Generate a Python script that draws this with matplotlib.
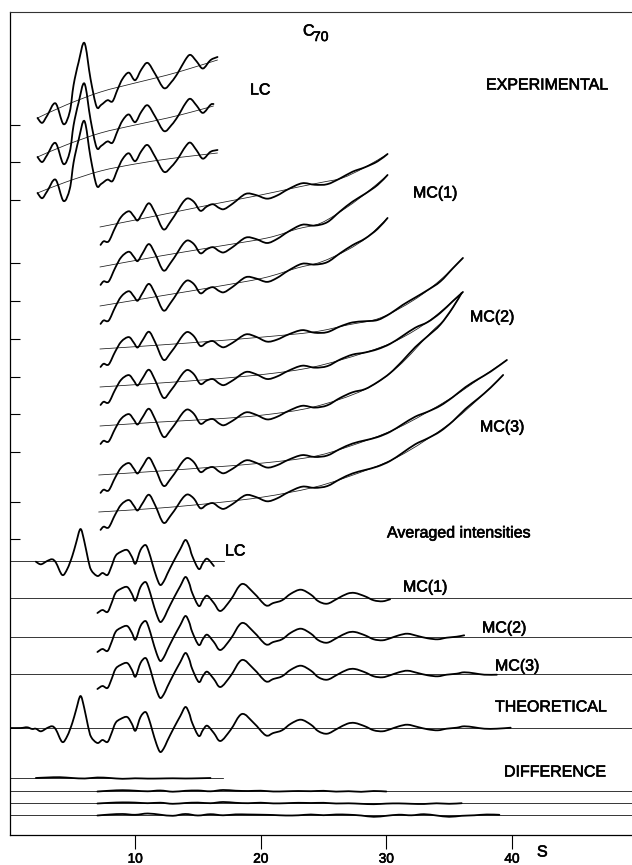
import numpy as np
import matplotlib
matplotlib.use("Agg")
import matplotlib.pyplot as plt
from matplotlib.path import Path
from matplotlib.patches import PathPatch
import matplotlib.patheffects as pe

plt.rcParams['font.family'] = ['Liberation Sans', 'DejaVu Sans']

# ---------------- data ----------------
# theoretical molecular intensity sM(s) (px units, + up)
theo_s = [0.0, 0.9, 1.4, 1.8, 2.1, 2.5, 3.0, 3.4, 3.7, 4.2, 4.6, 5.0, 5.3, 5.65, 5.95,
          6.25, 6.5, 7.0, 7.4, 7.8, 8.1, 8.44, 8.84, 9.37, 9.75, 10.03, 10.43, 10.83, 11.1,
          11.36, 11.7, 12.0, 12.3, 12.56, 13.08, 13.6, 14.0, 14.3, 14.55, 15.07, 15.4, 15.74,
          16.27, 16.8, 17.6, 18.5, 19.45, 20.4, 21.0, 21.7, 22.4, 23.2, 24.0, 24.6, 25.3,
          26.1, 26.9, 27.5, 28.3, 29.0, 29.7, 30.3, 31.0, 31.7, 32.5, 33.3, 34.1, 34.8,
          35.6, 36.2, 37.0, 37.8, 38.8, 39.9]
theo_v = [0, 0, 0.7, -1, -0.7, -3.3, 0, 1.7, -1.7, -14, -8, 5, 18, 32, 20,
          2, -9, -15, -12, -14, -6, 5, 9, 11, 4, -2.7, 11, 16, 9,
          -2, -16, -24, -20, -13, 0, 12, 21, 15, 5, -8, -2, 2.3,
          -5, -13, -2, 14, 5, -7.3, -5, -2.3, 4.3, 8.3, 3.3, -3.3, -5.7,
          -0.7, 4.3, 5, 1.7, -2.3, -3.3, -1.3, 1.7, 3.3, 1, -1.3, -2.3, -0.7,
          0.3, 1.7, 0.7, -0.7, -0.7, 0.3]

# averaged intensity curves: s range
avg_names = ["LC", "MC(1)", "MC(2)", "MC(3)"]
avg_start = [2.1, 7.0, 7.0, 7.0]
avg_end = [16.3, 30.3, 36.2, 38.8]

# experimental LC: oscillation about background
lc_s = [2.23, 2.6, 3.0, 3.66, 4.3, 4.8, 5.1, 5.5, 5.97, 6.45, 6.93, 7.3, 7.8, 8.2, 8.6,
        9.0, 9.5, 10.0, 10.5, 11.0, 11.6, 12.3, 12.9, 13.4, 14.0, 14.4, 14.9, 15.4, 16.0, 16.56]
lc_dev = [0, -7, -2, 6.5, -18, -8, 17, 38, 55, 17, -13, -13, -10, -12.5, -2,
          7.4, 12, 2.8, 12, 17, 4, -12.3, -8, -1, 10, 13.5, 5, -4, 2, 3]
lc_bg_s = [[2.23, 4.5, 7.25, 10, 12.58, 14.5, 16.56],
           [2.23, 4.5, 7.25, 10, 12.58, 14.5, 16.24],
           [2.23, 4.5, 7.25, 10, 12.58, 14.5, 16.56]]
lc_bg_v = [[717, 730, 743, 752, 760, 767, 775],
           [678, 690, 702, 710, 717, 723, 729],
           [642, 653, 664, 671, 676, 679, 682]]

# experimental MC: oscillation about background
mc_s = [7.25, 7.5, 7.9, 8.4, 8.9, 9.5, 9.9, 10.2, 10.6, 11.1, 11.6, 12.25, 12.8, 13.4,
        13.8, 14.2, 14.7, 15.2, 15.7, 16.2, 16.7, 17.1, 17.8, 18.8, 19.6, 20.5, 21.3,
        22.2, 23.3, 24.3, 25.3, 26.3, 27.3, 28.3, 29.3, 30.3, 31.3, 32.3, 33.3, 34.3,
        35.3, 36.3, 37.3, 38.3, 39.6]
mc_dev = [-18, -15, -16, -4, 6, 10, 4, -1, 6, 14, 3, -15, -9, 1,
          8, 11, 6, -4, -1, 0, -5, -7, -3, 4, 1, -5, -4,
          0, 3, -1, -3, 0, 1.5, 0, -1.5, -1, 1, 1.5, -0.5, -1.5,
          -0.5, 1, 0.5, -0.5, 0]
mc_end = [30.1, 30.1, 30.1, 36.1, 36.1, 36.0, 39.6, 39.3]
mc_bg_s = [[7.2, 12, 16.3, 20, 23, 25, 26.5, 28.2, 30.1],
           [7.2, 12, 16.3, 20.5, 22.9, 24.8, 26.9, 28.5, 30.1],
           [7.2, 12, 16.3, 20.2, 22.9, 24.8, 26.9, 28.5, 30.1],
           [7.2, 12, 16.3, 20.2, 24.2, 26.9, 29.5, 32.2, 34.3, 36.1],
           [7.2, 12, 16.3, 20.5, 24.2, 28.2, 30.9, 33.5, 36.1],
           [7.2, 12, 16.3, 20.2, 24.2, 28.2, 30.9, 33.5, 34.8, 36.0],
           [7.1, 12, 16.3, 20.2, 24, 26.9, 30.9, 34.9, 37.5, 39.6],
           [7.1, 12, 16.3, 20.2, 24, 26.9, 30.9, 34.9, 37.5, 39.3]]
mc_bg_v = [[608, 620, 631, 640, 648, 653, 657, 667, 681],
           [568, 579, 588, 597, 606, 612, 628, 643, 660],
           [529, 539, 548, 557, 567, 573, 585, 598, 617],
           [486, 490, 494, 498, 503, 510, 517, 535, 555, 577],
           [448, 452, 456, 461, 468, 482, 495, 515, 543],
           [409, 413, 416, 420, 428, 445, 468, 502, 518, 542],
           [360, 364, 368, 372, 378, 388, 407, 435, 457, 475],
           [323, 327, 332, 338, 347, 358, 378, 410, 438, 460]]

# difference curves
diff_s = [[2.1, 3, 4, 5, 6, 7, 8, 9, 10, 11, 12, 13, 14, 15, 16],
          list(range(7, 31)),
          list(range(7, 37)),
          list(range(7, 40))]
diff_v = [[0, 0.5, 0.8, 0, -0.5, 0.5, 0, -0.8, -0.3, -0.6, -0.5, -0.3, -0.5, -0.3, 0],
          [-0.5, 0.3, 0.8, 0.3, -0.3, 0.5, -0.7, 0.2, 0.5, -0.3, 1.0, 0.3, 0, 0.3, -0.5,
           -0.3, 0, -0.2, 0.2, -0.6, -0.2, -0.8, 0, -0.5],
          [-0.5, 0.2, 0.6, 0.4, -0.2, 0.3, -0.8, 0, 0.4, -0.2, 1.0, 0.2, -0.2, 0.3, -0.4,
           -0.2, 0.2, 0, 0.2, -0.5, -0.3, -0.8, -1.2, -0.6, -0.4, -0.8, -1.0, -0.3, -0.8, -0.2],
          [-0.5, 0.5, 1.0, 0.2, 1.5, 0.3, -0.8, 1.0, -0.5, 0.8, -0.3, 0.6, 0.5, 0.3, 0.0,
           -0.5, -0.3, 0.5, -0.2, 0.5, 0.3, -0.5, -1.8, -0.8, 0.3, -0.3, 0.8, -0.5, -1.8,
           -0.8, -0.3, 0.5, 0.2]]

xticks = [10, 20, 30, 40]

# ---------------- layout ----------------
W, H = 632, 865
X0, PXS = 9.5, 12.56
BOT, TOP = 835, 12
avg_base_py = [561, 598, 637, 674]
avg_base_end = [17.1, None, None, None]
theo_base_py = 728
diff_base_py = [778, 791, 803, 815]
diff_base_end = [17.0, None, None, None]
left_ticks_py = [125, 162, 200, 263, 301, 339, 377, 414, 452, 502, 539]

fig = plt.figure(figsize=(W / 100, H / 100), dpi=100)
ax = fig.add_axes([X0 / W, (H - BOT) / H, (W - X0) / W, (BOT - TOP) / H])
XMAX = (W - X0) / PXS
ax.set_xlim(0, XMAX)
ax.set_ylim(0, BOT - TOP)
ax.spines['right'].set_visible(False)
for sp in ['left', 'bottom']:
    ax.spines[sp].set_linewidth(0.9)
ax.spines['top'].set_linewidth(0.8)
ax.spines['top'].set_color('#333333')


def h(py):
    return BOT - py


def smooth(xs, ys, lw=1.1, color='black'):
    P = np.column_stack([np.asarray(xs, float), np.asarray(ys, float)])
    n = len(P)
    verts = [P[0]]
    codes = [Path.MOVETO]
    for i in range(n - 1):
        p0 = P[i - 1] if i > 0 else P[i]
        p1, p2 = P[i], P[i + 1]
        p3 = P[i + 2] if i + 2 < n else P[i + 1]
        verts += [p1 + (p2 - p0) / 6, p2 - (p3 - p1) / 6, p2]
        codes += [Path.CURVE4] * 3
    ax.add_patch(PathPatch(Path(verts, codes), fill=False, lw=lw, ec=color,
                           capstyle='round', joinstyle='round'))


CURVE_LW = 1.3
THIN_LW = 0.55

# experimental LC curves
for bs, bv in zip(lc_bg_s, lc_bg_v):
    smooth(bs, bv, lw=THIN_LW, color='#1a1a1a')
    s = np.array([x for x in lc_s if x <= bs[-1] + 1e-9])
    d = np.array(lc_dev[:len(s)])
    if s[-1] < bs[-1]:
        s = np.append(s, bs[-1]); d = np.append(d, 2)
    smooth(s, np.interp(s, bs, bv) + d, lw=CURVE_LW)

# experimental MC curves
for bs, bv, e in zip(mc_bg_s, mc_bg_v, mc_end):
    smooth(bs, bv, lw=THIN_LW, color='#1a1a1a')
    s = np.array([x for x in mc_s if x < e - 0.3])
    d = np.array(mc_dev[:len(s)])
    s = np.append(s, e); d = np.append(d, 0)
    smooth(s, np.interp(s, bs, bv) + d, lw=CURVE_LW)

# averaged intensities
ts = np.array(theo_s); tv = np.array(theo_v)
for b, be, a0, a1 in zip(avg_base_py, avg_base_end, avg_start, avg_end):
    ax.plot([0, be if be else XMAX], [h(b), h(b)], color='black', lw=THIN_LW)
    m = (ts >= a0 - 1e-9) & (ts <= a1 + 1e-9)
    smooth(ts[m], h(b) + tv[m], lw=CURVE_LW)

# theoretical
ax.plot([0, XMAX], [h(theo_base_py)] * 2, color='black', lw=THIN_LW)
smooth(ts, h(theo_base_py) + tv, lw=CURVE_LW)

# differences
for b, be, ds, dv in zip(diff_base_py, diff_base_end, diff_s, diff_v):
    ax.plot([0, be if be else XMAX], [h(b), h(b)], color='black', lw=THIN_LW)
    smooth(ds, h(b) + np.array(dv), lw=CURVE_LW)

heavy = [pe.withStroke(linewidth=0.45, foreground='black')]

# ticks
ax.set_xticks(xticks)
ax.set_xticklabels([str(t) for t in xticks], fontsize=9.8)
for lab in ax.get_xticklabels():
    lab.set_path_effects(heavy)
ax.tick_params(axis='x', direction='out', length=10, width=0.8, pad=2.0)
ax.set_yticks([h(p) for p in left_ticks_py])
ax.set_yticklabels([])
ax.tick_params(axis='y', direction='in', length=7.5, width=0.8)
ax.tick_params(top=False, right=False)

# texts
def ftext(px, py, s, size=11.5, **kw):
    fig.text(px / W, 1 - py / H, s, fontsize=size, ha='left', va='center',
             path_effects=heavy, **kw)

ftext(303, 31, "C")
ftext(313, 37, "70", size=10)
ftext(250, 90, "LC")
ftext(486, 85, "EXPERIMENTAL")
ftext(413, 193, "MC(1)")
ftext(470, 317, "MC(2)")
ftext(480, 427, "MC(3)")
ftext(387, 533, "Averaged intensities")
ftext(225, 551, "LC")
ftext(403, 587, "MC(1)")
ftext(482, 628, "MC(2)")
ftext(495, 666, "MC(3)")
ftext(495, 707, "THEORETICAL")
ftext(504, 772, "DIFFERENCE")
ftext(537, 852, "S")

fig.savefig("out.png", dpi=100)
